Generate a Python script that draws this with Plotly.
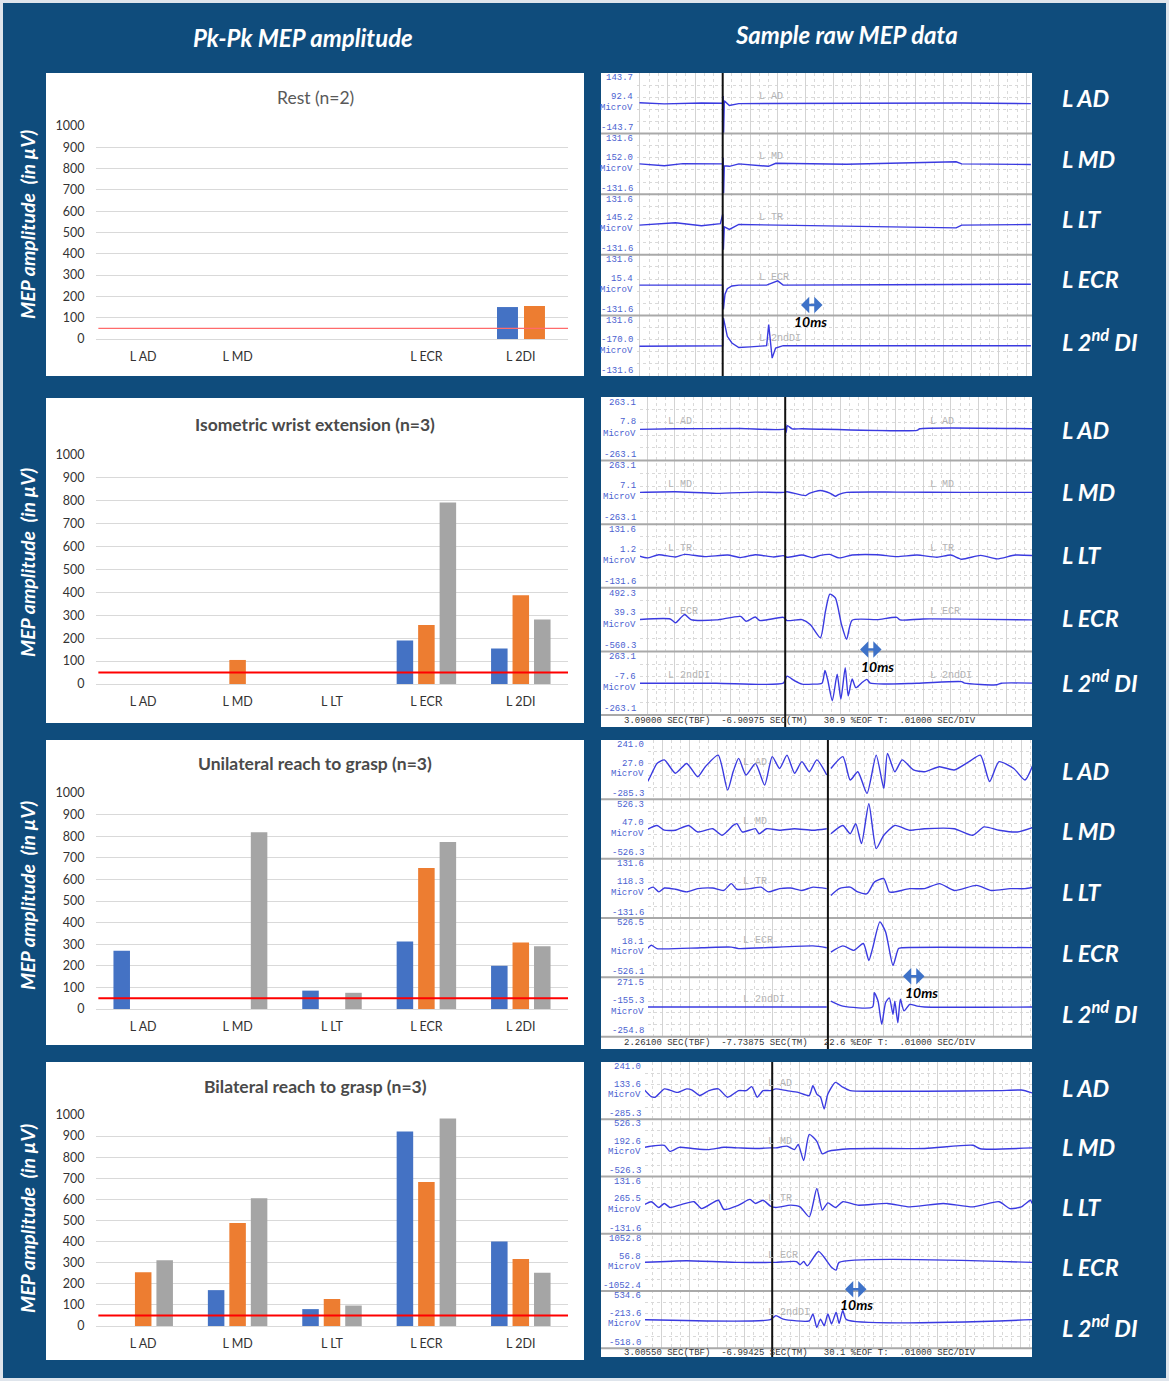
import plotly.graph_objects as go

W, H = 1169, 1381
BG = "#0f4c7c"

# ---------------- bar chart data (peak-to-peak MEP, µV) ----------------
MUSCLES = ["L AD", "L MD", "L LT", "L ECR", "L 2DI"]
REST_TICKS = ["L AD", "L MD", " ", "L ECR", "L 2DI"]
THRESHOLD = 50

REST_S1 = [None, None, None, None, 150]
REST_S2 = [None, None, None, None, 155]

ISO_S1 = [None, None, None, 190, 155]
ISO_S2 = [None, 105, None, 258, 388]
ISO_S3 = [None, None, None, 793, 282]

UNI_S1 = [270, None, 85, 312, 200]
UNI_S2 = [None, None, None, 653, 308]
UNI_S3 = [None, 818, 75, 773, 290]

BI_S1 = [None, 170, 80, 922, 400]
BI_S2 = [255, 488, 128, 683, 318]
BI_S3 = [312, 605, 97, 983, 252]

BAR_TITLES = ["Rest (n=2)", "Isometric wrist extension (n=3)",
              "Unilateral reach to grasp (n=3)", "Bilateral reach to grasp (n=3)"]

# ---------------- raw MEP traces (time in ms from stimulus, deflection in half-band units) ----------------
R1_AD_T = [-36.2, -25.4, -9.2, 0.0, 0.2, 0.4, 0.7, 2.9, 7.0, 39.3, 71.6, 103.9, 134.0]
R1_AD_V = [0.02, -0.02, 0.01, 0.0, 0.24, -0.98, 0.08, -0.07, -0.01, 0.0, -0.01, 0.01, -0.01]
R1_MD_T = [-36.2, -25.4, -17.3, 0.0, 0.2, 0.4, 0.7, 2.9, 7.0, 19.9, 23.1, 53.8, 101.5, 103.9, 134.0]
R1_MD_V = [0.0, -0.06, 0.01, 0.0, 0.2, -0.97, -0.06, -0.08, 0.0, -0.08, 0.02, -0.01, 0.07, 0.0, -0.02]
R1_LT_T = [-36.2, -20.5, -9.2, -1.0, 0.0, 0.3, 0.7, 2.9, 7.0, 53.8, 101.5, 103.9, 134.0]
R1_LT_V = [-0.02, 0.06, -0.04, 0.03, 0.34, -0.83, -0.08, -0.16, 0.0, -0.06, -0.11, -0.02, 0.0]
R1_ECR_T = [-36.2, -9.2, 0.0, 0.3, 1.0, 2.0, 4.0, 7.0, 19.1, 23.9, 26.3, 71.6, 134.0]
R1_ECR_V = [0.0, 0.0, 0.0, -0.8, -0.3, -0.12, -0.03, 0.0, 0.0, 0.14, 0.0, 0.01, 0.03]
R1_DI_T = [-36.2, -9.2, 0.0, 0.3, 2.0, 4.0, 7.0, 12.0, 19.1, 20.0, 21.5, 23.0, 26.3, 71.6, 134.0]
R1_DI_V = [-0.02, 0.0, 0.0, 0.92, 0.31, 0.09, -0.06, -0.04, 0.0, 0.7, -0.41, -0.08, 0.0, 0.0, 0.0]

R2_AD_T = [-64.3, -47.7, -19.4, 0.0, 0.2, 0.4, 1.0, 3.0, 7.3, 57.3, 58.5, 108.3]
R2_AD_V = [-0.02, 0.0, 0.01, 0.0, 0.15, -0.12, 0.1, 0.0, 0.0, -0.05, 0.0, 0.0]
R2_MD_T = [-64.3, -47.7, -30.0, -13.0, -0.8, 0.8, 8.9, 10.5, 15.3, 19.4, 21.8, 23.4, 26.7, 48.5, 76.7, 108.3]
R2_MD_V = [0.0, 0.02, -0.03, 0.01, 0.0, 0.02, -0.1, -0.03, 0.06, -0.02, -0.12, -0.06, 0.0, 0.01, 0.0, 0.0]
R2_LT_T = [-64.3, -60.0, -55.0, -47.7, -43.7, -35.0, -25.0, -19.4, -13.0, -5.0, -0.8, 0.8, 7.3, 12.0,
           15.3, 19.4, 23.4, 29.1, 40.0, 48.5, 57.3, 66.0, 72.0, 76.7, 85.0, 92.1, 100.0, 108.3]
R2_LT_V = [0.02, -0.06, 0.04, -0.03, 0.05, -0.02, 0.03, -0.05, 0.04, -0.03, 0.01, -0.04, 0.03, -0.05,
           0.02, 0.05, -0.06, 0.03, 0.04, -0.02, 0.03, -0.04, 0.03, -0.1, 0.02, -0.09, 0.03, 0.01]
R2_ECR_T = [-64.3, -50.0, -47.7, -45.5, -43.7, -41.0, -30.0, -19.4, -17.0, -13.0, -11.0, -0.8, 0.8, 7.3,
            11.0, 15.3, 17.5, 19.4, 21.8, 24.5, 26.7, 29.1, 40.0, 48.5, 50.0, 60.0, 108.3]
R2_ECR_V = [0.0, 0.02, -0.1, 0.05, 0.16, 0.0, -0.01, 0.1, -0.05, 0.08, -0.03, 0.07, -0.03, 0.0,
            -0.16, -0.57, 0.26, 0.8, 0.68, -0.16, -0.62, -0.02, 0.0, 0.07, -0.01, 0.02, -0.01]
R2_DI_T = [-64.3, -30.0, -0.8, 0.8, 4.0, 7.3, 12.0, 16.0, 17.3, 18.5, 20.5, 22.6, 24.2, 26.1, 27.4,
           29.1, 30.7, 33.1, 35.5, 37.0, 57.3, 76.7, 78.0, 92.1, 94.0, 108.3]
R2_DI_V = [0.0, 0.0, 0.0, 0.22, 0.08, -0.03, -0.03, 0.0, 0.4, 0.1, -0.55, 0.28, -0.5, 0.49, -0.4,
           0.13, -0.14, 0.0, 0.12, 0.0, 0.0, 0.05, 0.0, -0.05, 0.0, 0.0]

R3_AD_T = [-79.2, -79.0, -77.6, -74.3, -71.1, -66.3, -61.4, -56.6, -53.3, -47.7, -43.6, -41.2, -38.8,
           -35.6, -31.5, -27.5, -24.2, -21.0, -17.8, -14.5, -11.3, -8.1, -4.8, -0.5, 0.4, 1.3, 6.5,
           9.7, 13.0, 17.0, 21.0, 24.3, 25.9, 29.1, 32.3, 37.2, 42.0, 48.5, 54.9, 61.4, 66.3, 70.3,
           74.4, 80.8, 85.7, 89.7]
R3_AD_V = [0.38, -0.46, -0.29, 0.21, 0.33, -0.12, 0.21, -0.24, 0.10, 0.49, -0.69, -0.07, 0.38,
           -0.18, 0.21, -0.52, 0.44, 0.04, 0.49, -0.12, 0.27, -0.07, 0.33, -0.18, None, 0.04, 0.44,
           -0.35, -0.07, -0.80, 0.49, -0.63, 0.55, -0.07, 0.33, -0.01, -0.07, 0.10, -0.01, 0.27, 0.49,
           -0.40, 0.27, 0.04, -0.35, 0.27]
R3_MD_T = [-79.2, -74.3, -71.1, -66.3, -60.6, -56.6, -50.1, -46.0, -41.2, -39.6, -37.2, -31.5, -29.9,
           -26.7, -21.0, -14.5, -6.5, -0.5, 0.4, 1.3, 6.5, 9.7, 12.1, 14.6, 17.8, 21.0, 24.3, 29.1,
           35.6, 42.0, 54.9, 63.0, 67.9, 74.4, 82.4, 89.7]
R3_MD_V = [-0.04, 0.12, -0.04, -0.04, 0.12, -0.10, 0.01, -0.21, 0.12, 0.18, -0.10, 0.01, -0.16,
           0.01, -0.04, 0.01, -0.04, 0.01, None, -0.16, 0.12, -0.16, 0.18, -0.49, 0.85, -0.66, -0.21,
           0.12, -0.04, 0.01, 0.01, -0.21, 0.07, -0.04, -0.10, 0.07]
R3_LT_T = [-79.2, -76.0, -73.5, -71.1, -66.3, -61.4, -56.6, -50.1, -45.3, -42.0, -39.6, -33.9, -29.1,
           -25.9, -21.0, -16.2, -11.3, -6.5, -0.5, 0.4, 1.3, 4.9, 9.7, 13.0, 17.0, 20.2, 24.3, 26.7,
           29.1, 35.6, 42.0, 48.5, 54.9, 64.7, 71.1, 79.2, 85.7, 89.7]
R3_LT_V = [-0.07, 0.04, -0.12, 0.01, -0.03, -0.12, -0.01, 0.01, -0.07, 0.16, -0.03, -0.01, 0.04,
           -0.12, -0.01, 0.01, -0.07, 0.04, -0.01, None, -0.24, -0.01, 0.04, -0.12, -0.18, 0.21, 0.33,
           -0.12, -0.12, -0.01, -0.01, 0.16, -0.07, 0.10, -0.07, -0.01, -0.01, 0.04]
R3_ECR_T = [-79.2, -76.8, -74.3, -55.0, -42.0, -38.8, -6.5, -0.5, 0.4, 1.3, 6.5, 11.3, 15.4, 17.8,
            19.4, 22.6, 25.1, 28.3, 30.7, 32.3, 89.7]
R3_ECR_V = [-0.09, 0.08, -0.03, 0.0, 0.02, -0.03, 0.06, 0.0, None, -0.15, 0.06, -0.09, 0.14, -0.43,
            -0.03, 0.87, 0.53, -0.60, -0.03, 0.0, 0.0]
R3_DI_T = [-79.2, -40.0, -0.5, 0.4, 1.3, 6.5, 19.4, 20.2, 21.8, 23.4, 25.1, 26.7, 28.3, 29.1, 30.4,
           31.5, 33.1, 35.6, 38.8, 42.0, 89.7]
R3_DI_V = [0.0, 0.0, 0.0, None, 0.2, 0.03, 0.0, 0.48, 0.2, -0.58, 0.15, 0.31, -0.25, 0.2, -0.53,
           0.26, -0.13, 0.09, 0.03, 0.0, 0.0]

R4_AD_T = [-56.6, -52.6, -50.9, -46.9, -44.5, -41.2, -37.2, -34.8, -31.5, -27.5, -23.4, -19.4, -14.6,
           -11.3, -8.9, -6.5, -4.0, -0.8, 1.6, 6.4, 11.3, 16.1, 17.7, 19.4, 21.0, 22.6, 24.2, 27.5,
           30.7, 33.9, 43.6, 66.3, 98.6, 108.3, 113.0]
R4_AD_V = [0.12, -0.21, -0.23, 0.06, 0.02, -0.06, 0.06, 0.02, -0.17, 0.0, 0.06, -0.23, 0.0,
           0.0, 0.14, -0.23, 0.0, 0.0, 0.06, 0.0, -0.06, -0.17, 0.17, -0.12, -0.23, -0.64, -0.12, 0.29,
           0.12, 0.0, -0.02, -0.02, 0.0, 0.02, -0.08]
R4_MD_T = [-56.6, -52.6, -46.9, -44.5, -40.4, -34.8, -27.5, -21.0, -14.6, -6.5, -0.8, 1.6, 6.4, 9.7,
           11.3, 13.7, 16.1, 19.4, 21.8, 24.2, 33.9, 66.3, 87.3, 90.5, 113.0]
R4_MD_V = [0.0, 0.06, 0.09, -0.12, 0.02, -0.02, -0.06, 0.02, 0.0, -0.02, 0.0, 0.0, 0.06, -0.06,
           0.12, -0.44, 0.47, 0.23, -0.21, -0.12, -0.03, -0.02, 0.09, -0.03, 0.0]
R4_LT_T = [-56.6, -52.6, -49.3, -46.9, -44.5, -40.4, -34.0, -30.7, -23.4, -21.0, -14.6, -9.7, -7.3,
           -4.0, -0.8, 1.6, 8.0, 12.1, 16.1, 19.4, 21.8, 24.2, 27.5, 30.7, 37.2, 50.1, 59.8, 74.4,
           87.3, 98.6, 103.4, 108.3, 112.3, 113.0]
R4_LT_V = [-0.03, 0.12, -0.08, 0.06, -0.08, 0.0, 0.12, -0.12, 0.17, -0.15, 0.0, 0.2, 0.06,
           0.17, -0.03, -0.08, 0.0, -0.06, -0.41, 0.58, -0.17, 0.08, -0.08, 0.12, 0.0, 0.06, -0.06, 0.06,
           -0.06, 0.12, -0.12, -0.06, 0.17, 0.06]
R4_ECR_T = [-56.6, -37.2, -14.6, -0.8, 1.6, 10.5, 12.1, 13.7, 15.3, 20.2, 25.8, 27.8, 29.1, 113.0]
R4_ECR_V = [0.0, 0.06, 0.0, 0.0, 0.0, 0.03, -0.08, 0.03, -0.12, 0.38, -0.17, -0.27, 0.0, 0.0]
R4_DI_T = [-56.6, -0.8, 1.6, 4.8, 16.1, 17.7, 19.4, 21.0, 22.6, 24.2, 25.8, 27.8, 29.1, 30.7, 32.3, 113.0]
R4_DI_V = [0.0, 0.0, 0.14, 0.02, -0.04, 0.2, -0.27, 0.02, -0.21, 0.2, -0.15, 0.26, -0.13, 0.32, 0.0, 0.0]

# channel scale labels shown by the acquisition software
R1_TOP = ["143.7", "131.6", "131.6", "131.6", "131.6"]
R1_MID = ["92.4", "152.0", "145.2", "15.4", "-170.0"]
R1_BOT = ["-143.7", "-131.6", "-131.6", "-131.6", "-131.6"]
R2_TOP = ["263.1", "263.1", "131.6", "492.3", "263.1"]
R2_MID = ["7.8", "7.1", "1.2", "39.3", "-7.6"]
R2_BOT = ["-263.1", "-263.1", "-131.6", "-560.3", "-263.1"]
R3_TOP = ["241.0", "526.3", "131.6", "526.5", "271.5"]
R3_MID = ["27.0", "47.0", "118.3", "18.1", "-155.3"]
R3_BOT = ["-285.3", "-526.3", "-131.6", "-526.1", "-254.8"]
R4_TOP = ["241.0", "526.3", "131.6", "1052.8", "534.6"]
R4_MID = ["133.6", "192.6", "265.5", "56.8", "-213.6"]
R4_BOT = ["-285.3", "-526.3", "-131.6", "-1052.4", "-518.0"]

RAW_NAMES = ["L AD", "L MD", "L TR", "L ECR", "L 2ndDI"]
SIDE_NAMES = ["L AD", "L MD", "L LT", "L ECR", "L 2<sup>nd</sup> DI"]
STATUS = [None,
          "3.09000 SEC(TBF)\u00a0\u00a0-6.90975 SEC(TM)\u00a0\u00a0 30.9 %EOF T:\u00a0\u00a0.01000 SEC/DIV",
          "2.26100 SEC(TBF)\u00a0\u00a0-7.73875 SEC(TM)\u00a0\u00a0 22.6 %EOF T:\u00a0\u00a0.01000 SEC/DIV",
          "3.00550 SEC(TBF)\u00a0\u00a0-6.99425 SEC(TM)\u00a0\u00a0 30.1 %EOF T:\u00a0\u00a0.01000 SEC/DIV"]

# ---------------- layout geometry (pixels of the 1169x1381 page) ----------------
BAR_BOX = [(46, 73, 584, 376), (46, 398, 584, 723), (46, 740, 584, 1045), (46, 1062, 584, 1360)]
BAR_PLOT_Y = [(126, 339), (455, 684), (793, 1009), (1115, 1326)]
BAR_TITLE_Y = [97, 424, 764, 1086]
YTITLE_Y = [225, 563, 896, 1219]
TR_BOX = [(601, 73, 1032, 376), (601, 397, 1032, 727), (601, 740, 1032, 1049), (601, 1062, 1032, 1357)]
BAND_BOTTOM = [376, 715, 1036.7, 1348.3]
STIM_PX = [722.7, 785.2, 827.9, 772.2]
LABEL_COL_PX = [634, 637, 645, 642]
SIDE_LABEL_Y = [[98, 159, 219, 279, 340], [430, 492, 555, 618, 681],
                [771, 831, 892, 953, 1013], [1088, 1147, 1207, 1267, 1326]]
PX_PER_MS = 2.3
RAW_LABEL_T = [[15.0], [-51.8, 62.2], [-38.0], [-2.9]]
ARROW_T = [33.4, 31.9, 32.0, 31.0]
ARROW_Y = [1.17, 1.03, 1.02, 1.03]
TEN_MS_T = [38.0, 40.3, 40.9, 36.8]

BAR_COLORS = ["#4472C4", "#ED7D31", "#A5A5A5"]
TRACE_BLUE = "#3a3ae0"
FONT = "Lato, 'Open Sans', sans-serif"
MONO = "'Liberation Mono', 'DejaVu Sans Mono', monospace"


def fx(p):
    return p / W


def fy(p):
    return 1 - p / H


def ax_names(n):
    return ("x" if n == 1 else f"x{n}"), ("y" if n == 1 else f"y{n}")


fig = go.Figure()
shapes = []
annotations = []
layout_axes = {}

# white panel boxes
for box in BAR_BOX + TR_BOX:
    shapes.append(dict(type="rect", xref="paper", yref="paper", x0=fx(box[0]), x1=fx(box[2]),
                       y0=fy(box[3]), y1=fy(box[1]), fillcolor="white", line_width=0, layer="below"))

# ---------------- bar charts ----------------
BAR_SERIES = [[REST_S1, REST_S2], [ISO_S1, ISO_S2, ISO_S3], [UNI_S1, UNI_S2, UNI_S3], [BI_S1, BI_S2, BI_S3]]
for i, series in enumerate(BAR_SERIES):
    n = i + 1
    xa, ya = ax_names(n)
    if len(series) == 2:
        width, offsets = 0.222, [-0.252, 0.034]
    else:
        width, offsets = 0.175, [-0.315, -0.0875, 0.14]
    for s, vals in enumerate(series):
        fig.add_trace(go.Bar(x=MUSCLES, y=vals, width=width, offset=offsets[s],
                             marker=dict(color=BAR_COLORS[s], line_width=0),
                             xaxis=xa, yaxis=ya, showlegend=False))
    y1000, y0 = BAR_PLOT_Y[i]
    layout_axes["xaxis" if n == 1 else f"xaxis{n}"] = dict(
        domain=[fx(96), fx(568)], anchor=ya, type="category", range=[-0.5, 4.5], automargin=False,
        showgrid=False, zeroline=False, showline=False, ticks="outside", ticklen=6,
        tickcolor="rgba(0,0,0,0)", tickmode="array", tickvals=MUSCLES,
        ticktext=REST_TICKS if i == 0 else MUSCLES,
        tickfont=dict(family=FONT, size=12.5, color="#333333"), fixedrange=True)
    layout_axes["yaxis" if n == 1 else f"yaxis{n}"] = dict(
        domain=[fy(y0), fy(y1000)], anchor=xa, range=[0, 1000], dtick=100, automargin=False,
        showgrid=True, gridcolor="#d9d9d9", gridwidth=1, zeroline=True,
        zerolinecolor="#d9d9d9", zerolinewidth=1, showline=False, ticks="outside",
        ticklen=8, tickcolor="rgba(0,0,0,0)",
        tickfont=dict(family=FONT, size=12.5, color="#333333"))
    shapes.append(dict(type="line", xref=f"{xa} domain", yref=ya, x0=0.005, x1=1,
                       y0=THRESHOLD, y1=THRESHOLD, layer="above",
                       line=dict(color="#ff6b6b" if i == 0 else "#ff0000", width=1.3 if i == 0 else 2)))
    annotations.append(dict(xref="paper", yref="paper", x=fx(315), y=fy(BAR_TITLE_Y[i]),
                            text=BAR_TITLES[i] if i == 0 else f"<b>{BAR_TITLES[i]}</b>",
                            showarrow=False, xanchor="center", yanchor="middle",
                            font=dict(family=FONT, size=17.5, color="#595959" if i == 0 else "#4a4a4a")))
    annotations.append(dict(xref="paper", yref="paper", x=fx(27), y=fy(YTITLE_Y[i]),
                            text="<b><i>MEP amplitude \u00a0(in µV)</i></b>", textangle=-90,
                            showarrow=False, xanchor="center", yanchor="middle",
                            font=dict(family=FONT, size=19.5, color="white")))

# ---------------- raw traces ----------------
RAW = [
    [(R1_AD_T, R1_AD_V), (R1_MD_T, R1_MD_V), (R1_LT_T, R1_LT_V), (R1_ECR_T, R1_ECR_V), (R1_DI_T, R1_DI_V)],
    [(R2_AD_T, R2_AD_V), (R2_MD_T, R2_MD_V), (R2_LT_T, R2_LT_V), (R2_ECR_T, R2_ECR_V), (R2_DI_T, R2_DI_V)],
    [(R3_AD_T, R3_AD_V), (R3_MD_T, R3_MD_V), (R3_LT_T, R3_LT_V), (R3_ECR_T, R3_ECR_V), (R3_DI_T, R3_DI_V)],
    [(R4_AD_T, R4_AD_V), (R4_MD_T, R4_MD_V), (R4_LT_T, R4_LT_V), (R4_ECR_T, R4_ECR_V), (R4_DI_T, R4_DI_V)],
]
SCALES = [(R1_TOP, R1_MID, R1_BOT), (R2_TOP, R2_MID, R2_BOT), (R3_TOP, R3_MID, R3_BOT), (R4_TOP, R4_MID, R4_BOT)]

for p in range(4):
    n = p + 5
    xa, ya = ax_names(n)
    bx0, by0, bx1, by1 = TR_BOX[p]
    stim = STIM_PX[p]
    grid_x0 = LABEL_COL_PX[p] + 3
    t_min = (grid_x0 - stim) / PX_PER_MS
    t_max = (bx1 - stim) / PX_PER_MS
    band_px = (BAND_BOTTOM[p] - by0) / 5
    for c, (tt, vv) in enumerate(RAW[p]):
        base = 4.5 - c
        fig.add_trace(go.Scatter(x=tt, y=[None if v is None else base + 0.5 * v for v in vv],
                                 mode="lines",
                                 line=dict(color=TRACE_BLUE, width=1.4,
                                           shape="linear" if p == 0 else "spline", smoothing=0.6),
                                 connectgaps=False, xaxis=xa, yaxis=ya, showlegend=False,
                                 hoverinfo="skip"))
    layout_axes[f"xaxis{n}"] = dict(
        domain=[fx(grid_x0), fx(bx1)], anchor=ya, range=[t_min, t_max], showticklabels=False,
        automargin=False, ticks="", zeroline=False, showline=False, showgrid=True, tick0=0, dtick=12,
        gridcolor="#d3d3d3", gridwidth=1,
        minor=dict(dtick=4, tick0=0, showgrid=True, gridcolor="#d9d9d9", griddash="dot", gridwidth=1))
    layout_axes[f"yaxis{n}"] = dict(
        domain=[fy(BAND_BOTTOM[p]), fy(by0)], anchor=xa, range=[0, 5], showticklabels=False,
        automargin=False, ticks="", zeroline=False, showline=False, showgrid=False, tick0=0, dtick=1,
        minor=dict(dtick=0.2, tick0=0, showgrid=True, gridcolor="#d9d9d9", griddash="dot", gridwidth=1))
    # channel separators across the whole box
    seps = range(1, 5) if BAND_BOTTOM[p] >= by1 else range(1, 6)
    for k in seps:
        yy = fy(by0 + k * band_px)
        shapes.append(dict(type="line", xref="paper", yref="paper", x0=fx(bx0), x1=fx(bx1), y0=yy, y1=yy,
                           line=dict(color="#a9a9a9", width=2), layer="above"))
    if STATUS[p]:
        annotations.append(dict(xref="paper", yref="paper", x=fx(bx0 + 21), y=fy((BAND_BOTTOM[p] + by1) / 2),
                                text=STATUS[p], showarrow=False, xanchor="left", yanchor="middle",
                                font=dict(family=MONO, size=9, color="#333333")))
    # stimulus marker
    shapes.append(dict(type="line", xref=xa, yref="paper", x0=0, x1=0, y0=fy(by1), y1=fy(by0),
                       line=dict(color="#111111", width=2), layer="above"))
    tops, mids, bots = SCALES[p]
    for c in range(5):
        base = 4.5 - c
        mono_font = dict(family=MONO, size=9, color="#4b5fd0")
        for txt, yy in [(tops[c], base + 0.41), (mids[c], base + 0.1), ("MicroV", base - 0.08),
                        (bots[c], base - 0.41)]:
            annotations.append(dict(xref="paper", yref=ya, x=fx(LABEL_COL_PX[p] + 1), y=yy, text=txt,
                                    showarrow=False, xanchor="right", yanchor="middle", font=mono_font))
        for lt in RAW_LABEL_T[p]:
            annotations.append(dict(xref=xa, yref=ya, x=lt, y=base + 0.12, text=RAW_NAMES[c],
                                    showarrow=False, xanchor="left", yanchor="middle",
                                    font=dict(family=MONO, size=10, color="#b4b4b4")))
        annotations.append(dict(xref="paper", yref="paper", x=fx(1060), y=fy(SIDE_LABEL_Y[p][c]),
                                text=f"<b><i>{SIDE_NAMES[c]}</i></b>",
                                showarrow=False, xanchor="left", yanchor="middle",
                                font=dict(family=FONT, size=23.5, color="white")))
    # 10 ms scale arrow
    annotations.append(dict(xref=xa, yref=ya, x=ARROW_T[p] + 10, y=ARROW_Y[p], axref=xa, ayref=ya,
                            ax=ARROW_T[p], ay=ARROW_Y[p], text="", showarrow=True, arrowhead=1,
                            arrowside="end+start", arrowsize=1.1, arrowwidth=2.5, arrowcolor="#3e72c8"))
    annotations.append(dict(xref=xa, yref=ya, x=TEN_MS_T[p], y=ARROW_Y[p] - 0.27, text="<b><i>10ms</i></b>",
                            showarrow=False, xanchor="center", yanchor="middle",
                            font=dict(family=FONT, size=14, color="black")))

# headings
annotations.append(dict(xref="paper", yref="paper", x=fx(303), y=fy(38), text="<b><i>Pk-Pk MEP amplitude</i></b>",
                        showarrow=False, xanchor="center", yanchor="middle",
                        font=dict(family=FONT, size=24, color="white")))
annotations.append(dict(xref="paper", yref="paper", x=fx(846), y=fy(34), text="<b><i>Sample raw MEP data</i></b>",
                        showarrow=False, xanchor="center", yanchor="middle",
                        font=dict(family=FONT, size=24, color="white")))

# light frame round the page
shapes.append(dict(type="rect", xref="paper", yref="paper", x0=0, x1=1, y0=0, y1=1,
                   line=dict(color="#dfe5ec", width=6), fillcolor="rgba(0,0,0,0)", layer="above"))

fig.update_layout(
    width=W, height=H, autosize=False,
    margin=dict(l=0, r=0, t=0, b=0, pad=0, autoexpand=False),
    paper_bgcolor=BG, plot_bgcolor="white",
    barmode="group", showlegend=False,
    font=dict(family=FONT),
    shapes=shapes, annotations=annotations,
    **layout_axes,
)

fig.write_html(
    "out.html",
    config={"displayModeBar": False},
    post_script=("document.documentElement.style.margin='0';"
                 "document.body.style.margin='0';document.body.style.padding='0';"
                 "document.body.style.overflow='hidden';"),
)
